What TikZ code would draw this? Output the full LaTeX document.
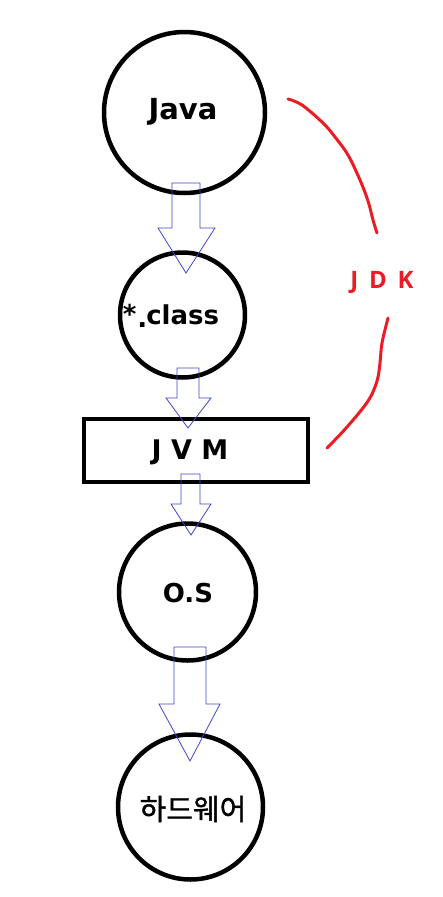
\documentclass[tikz,border=0pt]{standalone}
\usepackage{fontspec}
\setmainfont{DejaVu Sans}
\newfontfamily\kofont{Noto Sans CJK KR}[FakeBold=1.2]
\newfontfamily\jdkfont{Open Sans}
\definecolor{jdkred}{RGB}{237,28,36}
\definecolor{arrowblue}{RGB}{63,72,204}
\tikzset{
  bubble/.style={circle, draw=black, line width=4.5pt, inner sep=0pt},
  lbl/.style={font=\fontsize{26}{30}\selectfont\bfseries},
  blockarr/.style={draw=arrowblue, line width=0.8pt, line join=miter},
  brace/.style={draw=jdkred, line width=3pt, line cap=round}
}
\begin{document}
\begin{tikzpicture}[x=1pt,y=-1pt]
\fill[white] (0,0) rectangle (443,897);
\useasboundingbox (0,0) rectangle (443,897);
% nodes
\node[bubble, minimum size=161pt] (java) at (184.5,112.5) {};
\node[lbl, font=\fontsize{29}{32}\selectfont\bfseries] at (183,112) {Java};
\node[bubble, minimum size=125pt] (cls) at (182.5,315) {};
\node[lbl] at (171,316) {\raisebox{1pt}{*}\hspace{1pt}\raisebox{-3pt}{.}\hspace{-1pt}class};
\node[draw=black, line width=4.5pt, minimum width=224pt, minimum height=63pt, inner sep=0pt] (jvm) at (196,450.5) {};
\node[lbl, font=\fontsize{27}{30}\selectfont\bfseries] at (190,452) {J V M};
\node[bubble, minimum size=137pt] (os) at (187.5,592) {};
\node[lbl] at (188,593) {O.S};
\node[bubble, minimum size=145pt] (hw) at (190.5,807) {};
\node[font=\fontsize{29}{34}\selectfont\kofont] at (193,809) {하드웨어};
\node[text=jdkred, font=\fontsize{24}{28}\selectfont\jdkfont\bfseries] (jdk) at (382,282) {J\hspace{0.45em}D\hspace{0.45em}K};
% block arrows
\draw[blockarr] (172,183) -- (200,183) -- (200,228) -- (215,228) -- (186,273) -- (158,228) -- (172,228) -- cycle;
\draw[blockarr] (177,368) -- (199,368) -- (199,398) -- (211,398) -- (188,428) -- (166,398) -- (177,398) -- cycle;
\draw[blockarr] (181,474) -- (200,474) -- (200,504) -- (211,504) -- (191,535) -- (171,504) -- (181,504) -- cycle;
\draw[blockarr] (174,647) -- (206,647) -- (206,704) -- (220,704) -- (190,761) -- (159,704) -- (174,704) -- cycle;
% JDK brace
\draw[brace] plot[smooth, tension=0.6] coordinates {(288,99) (302,105) (323,123) (335,137) (348,155) (360,180) (368,201) (373,220) (377,233)};
\draw[brace] plot[smooth, tension=0.6] coordinates {(388,318) (382,343) (380,363) (377,381) (368,401) (347,427) (327,448)};
\end{tikzpicture}
\end{document}
